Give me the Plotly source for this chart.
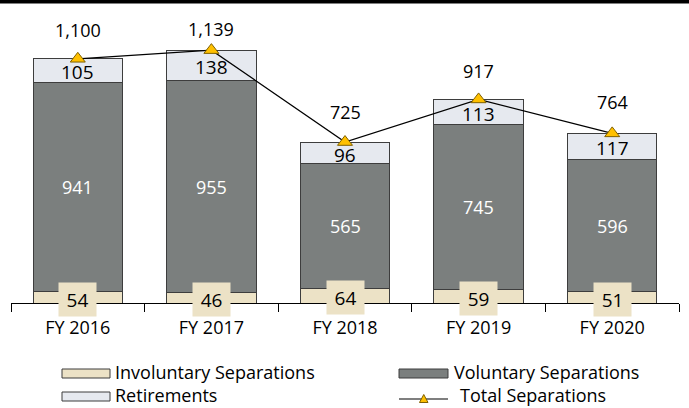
import plotly.graph_objects as go

years = ["FY 2016", "FY 2017", "FY 2018", "FY 2019", "FY 2020"]
involuntary = [54, 46, 64, 59, 51]
voluntary = [941, 955, 565, 745, 596]
retirements = [105, 138, 96, 113, 117]
totals = [1100, 1139, 725, 917, 764]
series_names = ["Involuntary Separations", "Voluntary Separations", "Retirements", "Total Separations"]

# styling
label_shift = [29, 21, 30, 28, 31]
FONT = "Open Sans"
FS = 18
FS_LEG = 18
C_INV = "#ECE2C6"
C_VOL = "#7B7F7E"
C_RET = "#E6E9EF"
C_EDGE = "#3d3d3d"
C_MARK = "#FFC000"

W, H = 689, 408
ML, MR, MT, MB = 11, 10, 20, 105
PW, PH = W - ML - MR, H - MT - MB


def px(x):
    return (x - ML) / PW


def py(y):
    return (H - MB - y) / PH


fig = go.Figure()
bar_w = 0.67
fig.add_bar(x=years, y=involuntary, name=series_names[0], width=bar_w,
            marker=dict(color=C_INV, line=dict(color=C_EDGE, width=1)), showlegend=False)
fig.add_bar(x=years, y=voluntary, name=series_names[1], width=bar_w,
            marker=dict(color=C_VOL, line=dict(color=C_EDGE, width=1)), showlegend=False)
fig.add_bar(x=years, y=retirements, name=series_names[2], width=bar_w,
            marker=dict(color=C_RET, line=dict(color=C_EDGE, width=1)), showlegend=False)
fig.add_scatter(x=years, y=totals, name=series_names[3], mode="lines+markers",
                line=dict(color="#000000", width=1.2),
                marker=dict(symbol="triangle-up", size=13, color=C_MARK,
                            line=dict(color="#7F6000", width=1)),
                showlegend=False)

ann = []
for i, yr in enumerate(years):
    inv, vol, ret, tot = involuntary[i], voluntary[i], retirements[i], totals[i]
    ann.append(dict(x=yr, y=inv / 2, text=str(inv), showarrow=False,
                    font=dict(family=FONT, size=FS + 1, color="#000000"),
                    bgcolor=C_INV, borderpad=4, width=29, height=25, yshift=-2))
    ann.append(dict(x=yr, y=inv + vol / 2, text=str(vol), showarrow=False,
                    font=dict(family=FONT, size=FS, color="#FFFFFF")))
    ann.append(dict(x=yr, y=inv + vol + ret / 2, text=str(ret), showarrow=False,
                    font=dict(family=FONT, size=FS + 1, color="#000000"), yshift=-2))
    ann.append(dict(x=yr, y=tot, text=f"{tot:,}", showarrow=False, yshift=label_shift[i],
                    font=dict(family=FONT, size=FS, color="#000000")))

shapes = [dict(type="rect", xref="paper", yref="paper", x0=-0.05, x1=1.05,
               y0=py(3.5), y1=py(-2), fillcolor="#000000", line=dict(width=0))]

# custom legend
leg = [
    (series_names[0], 62, 110, 369, 378, C_INV, 113, 372),
    (series_names[1], 399, 448, 369, 378, C_VOL, 452, 372),
    (series_names[2], 62, 110, 392, 401, C_RET, 113, 395),
]
for name, x0, x1, y0, y1, col, tx, ty in leg:
    shapes.append(dict(type="rect", xref="paper", yref="paper", x0=px(x0), x1=px(x1),
                       y0=py(y1), y1=py(y0), fillcolor=col, line=dict(color=C_EDGE, width=1)))
    ann.append(dict(xref="paper", yref="paper", x=px(tx), y=py(ty), xanchor="left",
                    yanchor="middle", text=name, showarrow=False,
                    font=dict(family=FONT, size=FS_LEG, color="#000000")))
shapes.append(dict(type="line", xref="paper", yref="paper", x0=px(399), x1=px(448),
                   y0=py(399), y1=py(399), line=dict(color="#000000", width=1.2)))
tri = [(419.5, 402.5), (428, 402.5), (423.75, 394.5)]
path = "M " + " L ".join(f"{px(a):.5f},{py(b):.5f}" for a, b in tri) + " Z"
shapes.append(dict(type="path", xref="paper", yref="paper", path=path,
                   fillcolor=C_MARK, line=dict(color="#7F6000", width=1)))
ann.append(dict(xref="paper", yref="paper", x=px(458), y=py(395), xanchor="left",
                yanchor="middle", text=series_names[3], showarrow=False,
                font=dict(family=FONT, size=FS_LEG, color="#000000")))

fig.update_layout(
    width=W, height=H, margin=dict(l=ML, r=MR, t=MT, b=MB),
    barmode="stack",
    plot_bgcolor="#FFFFFF", paper_bgcolor="#FFFFFF",
    font=dict(family=FONT, size=FS, color="#000000"),
    annotations=ann, shapes=shapes,
    xaxis=dict(type="category", showline=True, linecolor="#000000", linewidth=1,
               ticks="outside", tickson="boundaries", ticklen=8, tickcolor="#000000",
               showgrid=False, tickfont=dict(family=FONT, size=FS, color="#000000"),
               ticklabelstandoff=8, range=[-0.5, 4.5]),
    yaxis=dict(range=[0, PH / 0.222], visible=False, showgrid=False),
)

fig.write_html("out.html")
